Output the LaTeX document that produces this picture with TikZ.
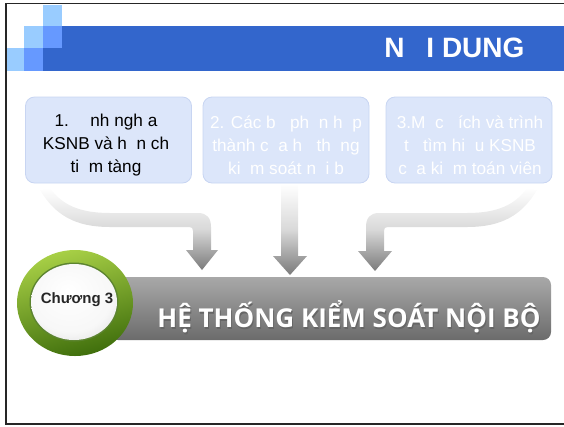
\documentclass[tikz,border=0pt]{standalone}
\usepackage{fontspec}
\setmainfont{Liberation Sans}
\newfontfamily\barfont{Open Sans}
\usetikzlibrary{calc}
\usetikzlibrary{positioning}

\definecolor{bannerblue}{HTML}{3366CC}
\definecolor{midblue}{HTML}{6699FF}
\definecolor{paleblue}{HTML}{99CCFF}
\definecolor{boxfill}{HTML}{DCE6FA}
\definecolor{boxline}{HTML}{C8D5F2}
\definecolor{ringlight}{HTML}{A8D046}
\definecolor{ringdark}{HTML}{3F6E0C}

\newcommand{\gp}[1][0.556em]{\hspace{#1}}

\pgfdeclareradialshading{discshade}{\pgfpoint{-4bp}{8bp}}{color(0bp)=(white); color(24bp)=(white!97!black); color(42bp)=(black!18); color(50bp)=(black!32)}

\tikzset{
  topicbox/.style={rounded corners=9pt, fill=boxfill, draw=boxline, line width=0.8pt,
    minimum width=166pt, minimum height=86pt},
  topictext/.style={align=center, font=\fontsize{17.2}{23}\selectfont},
  fatarrow/.style={top color=white, bottom color=black!52, middle color=black!15},
  bartext/.style={font=\barfont\fontsize{26}{28}\selectfont\bfseries},
}

\begin{document}
\begin{tikzpicture}[x=1pt,y=-1pt]
    \useasboundingbox (0,0) rectangle (564,426);
    \draw[line width=1.6pt,black!85] (570,3.5) -| (6,424) -- (570,424);

    % title banner
    \fill[bannerblue] (43,48) rectangle (570,71);
    \fill[bannerblue] (62,26) rectangle (570,48);
    \fill[paleblue] (43,5) rectangle (62,26);
    \fill[paleblue] (24,26) rectangle (43,48);
    \fill[midblue] (43,26) rectangle (62,48);
    \fill[paleblue] (7,48) rectangle (24,71);
    \fill[midblue] (24,48) rectangle (43,71);
    \node[anchor=east,text=white,font=\fontsize{28}{30}\selectfont\bfseries] (title) at (528,48) {N\gp[0.78em]I DUNG};

    % topics
    \node[topicbox] (topic1) at (108.5,140) {};
    \node[topicbox] (topic2) at (286,140) {};
    \node[topicbox] (topic3) at (469,140) {};
    \node[topictext] (text1) at (106,145) {1.\gp[1.25em]nh ngh\gp[0.28em]a\\KSNB và h\gp n ch\gp\\ti\gp m tàng};
    \node[topictext,text=white] (text2) at (286,145) {2. Các b\gp{} ph\gp n h\gp p\\thành c\gp a h\gp{} th\gp ng\\ki\gp m soát n\gp i b\gp};
    \node[topictext,text=white] (text3) at (470,145) {3.M\gp c\ \gp ích và trình\\t\gp{} tìm hi\gp u KSNB\\c\gp a ki\gp m toán viên};

    % arrows
    \shade[fatarrow] (50,188) .. controls (62,205) and (80,213) .. (110,213) -- (198,213)
        .. controls (207,213) and (211,218) .. (211,227) -- (211,250) -- (218,250) -- (202,270)
        -- (186,250) -- (193,250) -- (193,231) .. controls (193,228) and (192,227) .. (189,227)
        -- (110,227) .. controls (75,227) and (55,215) .. (40,190) -- cycle;
    \shade[fatarrow] (281,184) -- (298,184) -- (298,256) -- (307,256) -- (290,275) -- (273,256) -- (281,256) -- cycle;
    \shade[fatarrow] (527,188) .. controls (515,205) and (497,213) .. (467,213) -- (379,213)
        .. controls (370,213) and (366,218) .. (366,227) -- (366,251) -- (358,251) -- (375,271)
        -- (392,251) -- (384,251) -- (384,231) .. controls (384,228) and (385,227) .. (388,227)
        -- (467,227) .. controls (502,227) and (522,215) .. (537,190) -- cycle;

    % chapter bar
    \shade[top color=black!34,bottom color=black!58,rounded corners=8pt] (110,277) rectangle (551,340);
    \node[bartext,text=black!60] at (350,318.5) {HỆ THỐNG KIỂM SOÁT NỘI BỘ};
    \node[bartext,text=white] (chaptitle) at (349,317) {HỆ THỐNG KIỂM SOÁT NỘI BỘ};

    % chapter ring
    \shade[top color=ringlight,bottom color=ringdark,shading angle=15] (75,303) ellipse [x radius=58pt,y radius=53pt];
    \fill[ringdark!85] (74,302) ellipse [x radius=44.5pt,y radius=39.5pt];
    \shade[shading=discshade] (74,302) ellipse [x radius=43pt,y radius=38pt];
    \node[font=\fontsize{15}{17}\selectfont\bfseries,text=black!85] (chapno) at (77,300) {Chương 3};
\end{tikzpicture}
\end{document}
